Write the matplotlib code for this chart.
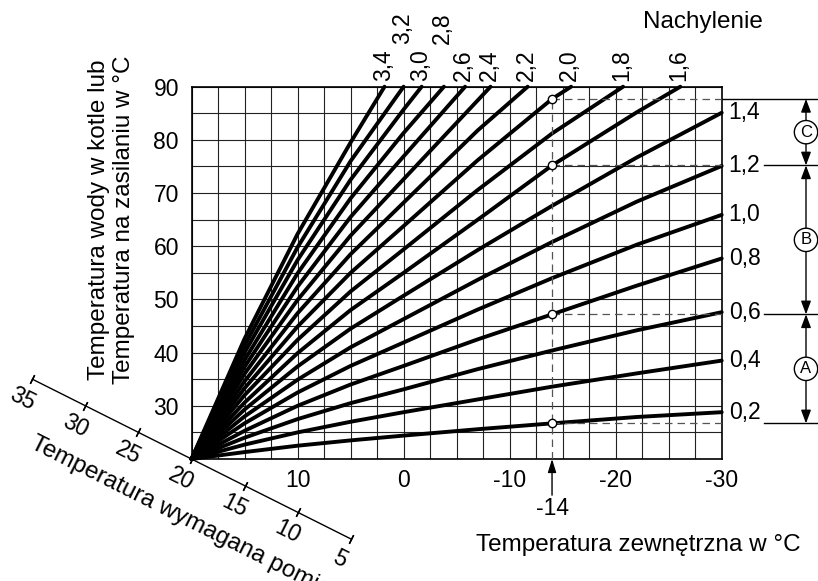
import matplotlib.pyplot as plt
import numpy as np

plt.rcParams['font.family'] = ['Liberation Sans', 'DejaVu Sans']

# krzywe grzewcze konczace sie na prawej krawedzi: temp. zasilania przy danych temp. zewn.
slopes_right = [0.2, 0.4, 0.6, 0.8, 1.0, 1.2, 1.4]
outdoor_right = [20, 15, 10, 5, 0, -7, -14, -22, -30]
supply_right = [
    [20, 21.3, 22.5, 23.5, 24.4, 25.6, 26.7, 27.9, 28.8],
    [20, 22.7, 25.0, 27.0, 28.8, 31.2, 33.6, 36.1, 38.5],
    [20, 24.0, 27.5, 30.5, 33.1, 36.9, 40.4, 44.2, 47.6],
    [20, 25.3, 30.0, 34.0, 37.5, 42.5, 47.2, 52.6, 57.7],
    [20, 26.7, 32.5, 37.5, 41.9, 48.1, 54.0, 60.3, 65.9],
    [20, 28.0, 34.9, 41.0, 46.3, 53.7, 60.8, 68.4, 75.1],
    [20, 29.3, 37.4, 44.5, 50.7, 59.3, 67.6, 76.7, 85.1],
]
# krzywe dochodzace do gornej krawedzi (90 °C)
slopes_top = [1.6, 1.8, 2.0, 2.2, 2.4, 2.6, 2.8, 3.0, 3.2, 3.4]
outdoor_top = [
    [20, 15, 10, 5, 0, -7, -14, -22, -26.1],
    [20, 15, 10, 5, 0, -7, -14, -20.7],
    [20, 15, 10, 5, 0, -7, -14, -15.8],
    [20, 15, 10, 5, 0, -7, -11.7],
    [20, 15, 10, 5, 0, -8.2],
    [20, 15, 10, 5, 0, -5.8],
    [20, 15, 10, 5, 0, -3.8],
    [20, 15, 10, 5, 0, -1.7],
    [20, 15, 10, 5, 0.0],
    [20, 15, 10, 5, 1.8],
]
supply_top = [
    [20, 30.6, 39.9, 48.0, 55.0, 65.0, 75.2, 85.2, 90],
    [20, 32.0, 42.4, 51.5, 59.4, 70.6, 81.2, 90],
    [20, 33.3, 44.9, 55.0, 63.8, 76.2, 87.7, 90],
    [20, 34.6, 47.4, 58.5, 68.2, 81.8, 90],
    [20, 36.0, 49.9, 62.0, 72.6, 90],
    [20, 37.3, 52.4, 65.5, 76.9, 90],
    [20, 38.6, 54.9, 69.0, 81.3, 90],
    [20, 40.0, 57.4, 72.5, 85.7, 90],
    [20, 41.3, 59.8, 76.0, 90],
    [20, 42.6, 62.3, 79.5, 90],
]
raised_labels = [2.8, 3.2]

x_ticks = [10, 0, -10, -20, -30]
y_ticks = [30, 40, 50, 60, 70, 80, 90]
room_ticks = [35, 30, 25, 20, 15, 10, 5]

# przyklad: -14 °C
example_outdoor = -14
example_supply = [26.7, 47.2, 75.2, 87.7]
ranges = ['A', 'B', 'C']

W, H = 818, 581


def px(x, y):
    return x / W, 1 - y / H


def fmt(s):
    return ("%.1f" % s).replace('.', ',')


fig = plt.figure(figsize=(W / 100, H / 100), dpi=100)
ax = fig.add_axes([191.5 / W, 1 - 459 / H, 530.2 / W, 372.3 / H])
ax.set_xlim(20, -30)
ax.set_ylim(20, 90)

ax.set_xticks(np.arange(20, -30.1, -2.5), minor=True)
ax.set_yticks(np.arange(20, 90.1, 5), minor=True)
ax.set_xticks(x_ticks)
ax.set_xticklabels([str(v) for v in x_ticks])
ax.set_yticks(y_ticks)
ax.set_yticklabels([str(v) for v in y_ticks])
ax.tick_params(which='both', length=0, labelsize=16.5)
ax.tick_params(axis='x', pad=7.5)
ax.tick_params(axis='y', pad=9)
ax.grid(which='both', color='#222222', lw=0.8)
for sp in ax.spines.values():
    sp.set_linewidth(1.2)

# krzywe
for s, ys in zip(slopes_right, supply_right):
    ax.plot(outdoor_right, ys, color='k', lw=2.8, solid_capstyle='round',
            solid_joinstyle='round', clip_on=False, zorder=3)
    ax.annotate(fmt(s), (outdoor_right[-1], ys[-1]), xytext=(5, 0), textcoords='offset points',
                ha='left', va='center', fontsize=16.5, annotation_clip=False)
for s, xs, ys in zip(slopes_top, outdoor_top, supply_top):
    ax.plot(xs, ys, color='k', lw=2.8, solid_capstyle='round', solid_joinstyle='round',
            clip_on=False, zorder=3)
    off = 31 if s in raised_labels else 4
    ax.annotate(fmt(s), (xs[-1], ys[-1]), xytext=(-1, off), textcoords='offset points', rotation=90,
                ha='center', va='bottom', fontsize=16.5, annotation_clip=False)

# przyklad -14
ax.plot([example_outdoor, example_outdoor], [20, example_supply[-1]], ls=(0, (6, 4)),
        color='#555555', lw=0.9, zorder=4)
for v in example_supply:
    ax.plot([example_outdoor, -30], [v, v], ls=(0, (6, 4)), color='#555555', lw=0.9, zorder=4)
ax.plot([example_outdoor] * len(example_supply), example_supply, 'o', mfc='white', mec='k',
        ms=6, mew=1, zorder=5)
ax.annotate('', xy=(example_outdoor, 20), xytext=(example_outdoor, 13.2),
            arrowprops=dict(arrowstyle='-|>,head_length=0.8,head_width=0.25', color='k', lw=1,
                            shrinkA=0, shrinkB=0), annotation_clip=False)
ax.text(example_outdoor, 10.6, str(example_outdoor), ha='center', va='center', fontsize=16.5)

# zakresy A, B, C po prawej
ax.plot([-30, -39.5], [example_supply[-1]] * 2, color='k', lw=1, clip_on=False)
for v in example_supply[:-1]:
    ax.plot([-34.0, -39.5], [v, v], color='k', lw=1, clip_on=False)
xa = -37.95
for i, letter in enumerate(ranges):
    lo, hi = example_supply[i], example_supply[i + 1]
    ax.annotate('', xy=(xa, hi), xytext=(xa, lo),
                arrowprops=dict(arrowstyle='<|-|>,head_length=0.8,head_width=0.3', color='k',
                                lw=1, shrinkA=0, shrinkB=0), annotation_clip=False)
    ax.text(xa, (lo + hi) / 2, letter, ha='center', va='center', fontsize=12,
            bbox=dict(boxstyle='circle,pad=0.25', fc='white', ec='k', lw=1), clip_on=False)

# skosna os temperatury pomieszczenia
p0 = ax.transData.transform((room_ticks[0], room_ticks[0]))
p1 = ax.transData.transform((room_ticks[-1], room_ticks[-1]))
ang = np.degrees(np.arctan2(p1[1] - p0[1], p1[0] - p0[0]))
ax.plot(room_ticks, room_ticks, color='k', lw=1, clip_on=False, zorder=2,
        marker=(2, 2, ang), ms=7, mew=1)
for r in room_ticks:
    ax.annotate(str(r), (r, r), xytext=(-7.5, -14.5), textcoords='offset points', rotation=ang,
                ha='center', va='center', fontsize=16.5, annotation_clip=False)
fig.text(*px(32, 442), 'Temperatura wymagana pomieszczenia w °C', rotation=ang,
         rotation_mode='anchor', ha='left', va='center', fontsize=17.5)

# opisy osi
fig.text(*px(638, 551), 'Temperatura zewnętrzna w °C', ha='center', va='baseline', fontsize=17.5)
fig.text(*px(111.5, 220), 'Temperatura wody w kotle lub\nTemperatura na zasilaniu w °C',
         rotation=90, ha='center', va='center', multialignment='center', fontsize=17.5,
         linespacing=1.2)
fig.text(*px(703, 22), 'Nachylenie', ha='center', va='center', fontsize=17.5)

fig.savefig('out.png', dpi=100)
